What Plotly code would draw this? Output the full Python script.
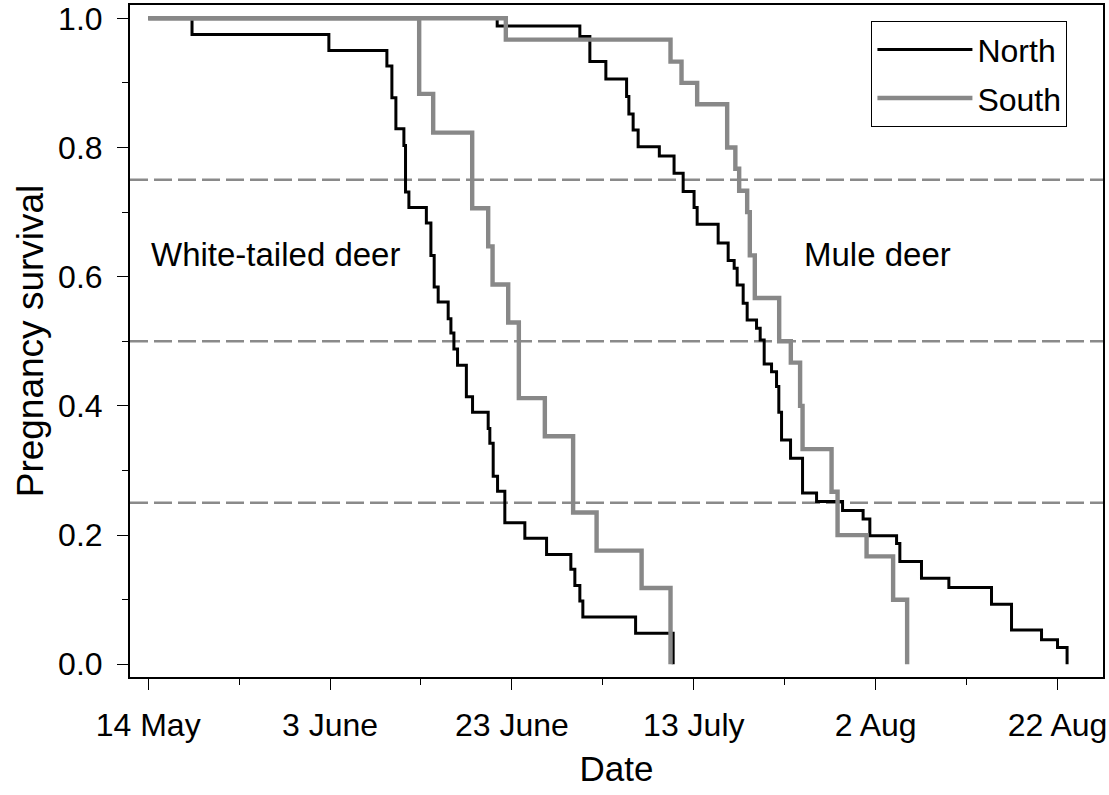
import plotly.graph_objects as go

# Days since 14 May
tick_days = [0, 20, 40, 60, 80, 100]
tick_labels = ["14 May", "3 June", "23 June", "13 July", "2 Aug", "22 Aug"]
y_ticks = [0.0, 0.2, 0.4, 0.6, 0.8, 1.0]
ref_levels = [0.25, 0.5, 0.75]

# White-tailed deer, North
wt_north_t = [0, 4.82, 19.87, 26.25, 26.80, 27.24, 28.12, 28.30, 28.67, 30.59, 31.09, 31.45,
              31.89, 32.99, 33.29, 33.62, 34.02, 34.99, 35.67, 37.39, 37.57, 37.94, 38.42,
              39.22, 41.42, 43.81, 46.48, 46.92, 47.47, 47.80, 53.60, 57.73]
wt_north_s = [1.0, 0.975, 0.950, 0.926, 0.877, 0.829, 0.803, 0.731, 0.707, 0.683, 0.633, 0.584,
              0.561, 0.535, 0.513, 0.488, 0.463, 0.414, 0.390, 0.365, 0.342, 0.291, 0.268,
              0.219, 0.195, 0.170, 0.147, 0.122, 0.098, 0.073, 0.048, 0.0]

# White-tailed deer, South
wt_south_t = [0, 29.80, 31.34, 35.63, 37.39, 37.87, 39.59, 40.76, 43.62, 46.73, 49.31, 54.26, 57.44]
wt_south_s = [1.0, 0.883, 0.823, 0.706, 0.647, 0.588, 0.529, 0.412, 0.353, 0.235, 0.176, 0.118, 0.0]

# Mule deer, North
mule_north_t = [0, 38.38, 47.47, 48.57, 50.33, 52.61, 52.86, 53.33, 53.88, 56.21, 57.83, 58.83,
                60.03, 60.37, 62.68, 63.78, 64.44, 64.77, 65.43, 65.87, 66.90, 67.30, 67.74,
                68.55, 69.10, 69.35, 69.65, 70.64, 71.96, 73.50, 76.36, 78.62, 79.36, 82.30,
                82.66, 85.04, 88.05, 92.74, 94.94, 98.24, 100.0, 101.05]
mule_north_s = [1.0, 0.988, 0.972, 0.933, 0.906, 0.879, 0.852, 0.827, 0.801, 0.787, 0.760, 0.732,
                0.707, 0.681, 0.652, 0.625, 0.613, 0.587, 0.559, 0.533, 0.520, 0.502, 0.465,
                0.453, 0.430, 0.390, 0.347, 0.319, 0.265, 0.252, 0.238, 0.225, 0.199, 0.187,
                0.159, 0.133, 0.119, 0.093, 0.053, 0.038, 0.026, 0.0]

# Mule deer, South
mule_south_t = [0, 39.33, 57.44, 58.65, 60.37, 63.67, 64.57, 64.99, 65.87, 66.16, 66.71, 69.39,
                70.67, 71.69, 71.96, 75.15, 75.81, 79.00, 81.92, 83.46]
mule_south_s = [1.0, 0.967, 0.933, 0.900, 0.867, 0.800, 0.767, 0.733, 0.700, 0.633, 0.567, 0.500,
                0.467, 0.400, 0.333, 0.267, 0.200, 0.167, 0.100, 0.0]

BLACK = "#000000"
GRAY = "#888888"
FONT = "Liberation Sans, Arial, sans-serif"

fig = go.Figure()
fig.add_trace(go.Scatter(x=wt_north_t, y=wt_north_s, mode="lines", line_shape="hv",
                         line=dict(color=BLACK, width=3), name="North", legendgroup="N"))
fig.add_trace(go.Scatter(x=mule_north_t, y=mule_north_s, mode="lines", line_shape="hv",
                         line=dict(color=BLACK, width=3), name="North", legendgroup="N",
                         showlegend=False))
fig.add_trace(go.Scatter(x=wt_south_t, y=wt_south_s, mode="lines", line_shape="hv",
                         line=dict(color=GRAY, width=4.4), name="South", legendgroup="S"))
fig.add_trace(go.Scatter(x=mule_south_t, y=mule_south_s, mode="lines", line_shape="hv",
                         line=dict(color=GRAY, width=4.4), name="South", legendgroup="S",
                         showlegend=False))

for lv in ref_levels:
    fig.add_hline(y=lv, line=dict(color="#8a8a8a", width=2.5, dash="18px,6px"), layer="below")

fig.add_annotation(x=14.0, y=0.635, text="White-tailed deer", showarrow=False,
                   font=dict(size=33, color="black", family=FONT))
fig.add_annotation(x=80.2, y=0.635, text="Mule deer", showarrow=False,
                   font=dict(size=33, color="black", family=FONT))

fig.update_layout(
    width=1109, height=795,
    margin=dict(l=130, r=6, t=5, b=118),
    paper_bgcolor="white", plot_bgcolor="white",
    font=dict(family=FONT, color="black", size=33),
    showlegend=True,
    legend=dict(x=0.762, y=0.976, xanchor="left", yanchor="top",
                bordercolor="black", borderwidth=1, bgcolor="white",
                itemwidth=95, tracegroupgap=4,
                font=dict(size=32, family=FONT, color="black")),
    xaxis=dict(range=[-2.0, 105.0], tickmode="array", tickvals=tick_days, ticktext=tick_labels,
               ticks="outside", ticklen=11, tickwidth=1.3, tickcolor="black",
               minor=dict(tickmode="linear", tick0=0, dtick=10, ticks="outside", ticklen=6,
                          tickwidth=1.3, tickcolor="black"),
               showline=True, linecolor="black", linewidth=2, mirror=True,
               showgrid=False, zeroline=False, ticklabelstandoff=8, automargin=False,
               ticklabeloverflow="allow",
               tickfont=dict(size=32),
               title=dict(text="Date", font=dict(size=35), standoff=14)),
    yaxis=dict(range=[-0.0197, 1.0206], tickmode="array", tickvals=y_ticks,
               ticktext=[f"{v:.1f}" for v in y_ticks],
               ticks="outside", ticklen=11, tickwidth=1.3, tickcolor="black",
               minor=dict(tickmode="linear", tick0=0, dtick=0.1, ticks="outside", ticklen=6,
                          tickwidth=1.3, tickcolor="black"),
               showline=True, linecolor="black", linewidth=2, mirror=True,
               showgrid=False, zeroline=False, ticklabelstandoff=8, automargin=False,
               ticklabeloverflow="allow",
               tickfont=dict(size=32),
               title=dict(text="Pregnancy survival", font=dict(size=37), standoff=3)),
)

fig.write_html("out.html")
